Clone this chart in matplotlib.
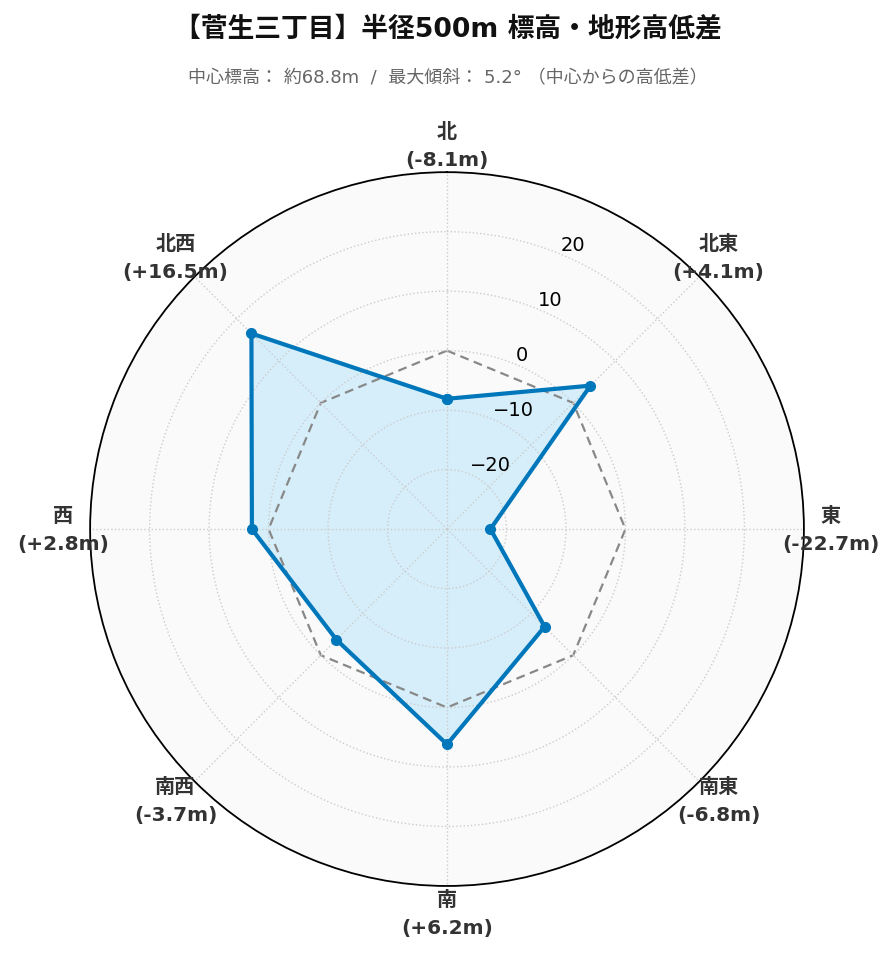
import numpy as np
import matplotlib
matplotlib.use('Agg')
import matplotlib.pyplot as plt

plt.rcParams['font.family'] = ['DejaVu Sans', 'Noto Sans CJK JP']

# 方位と中心からの高低差 (m)
directions = ['北', '北東', '東', '南東', '南', '南西', '西', '北西']
diffs = [-8.1, 4.1, -22.7, -6.8, 6.2, -3.7, 2.8, 16.5]
r_ticks = [-20, -10, 0, 10, 20]
title = '【菅生三丁目】半径500m 標高・地形高低差'
subtitle = '中心標高： 約68.8m  /  最大傾斜： 5.2° （中心からの高低差）'

n = len(directions)
angles = np.arange(n) * 2 * np.pi / n
angles_c = np.append(angles, angles[0])
diffs_c = np.append(diffs, diffs[0])
zero_c = np.zeros(n + 1)

fig = plt.figure(figsize=(8.96, 9.62), dpi=100)
ax = fig.add_axes([0.1004, 0.078, 0.797, 0.742], projection='polar')
ax.set_theta_offset(np.pi / 2)
ax.set_theta_direction(-1)
ax.set_facecolor('#fafafa')
ax.set_ylim(-30, 30)
ax.set_axisbelow(False)

ax.fill(angles_c, diffs_c, color='#d6eefa', linewidth=0, zorder=2)
ax.plot(angles_c, zero_c, color='#888888', linestyle='--', linewidth=1.6,
        dashes=(4, 2.5), zorder=2.2)
ax.plot(angles_c, diffs_c, color='#0077bb', linewidth=3, marker='o', markersize=7, zorder=3)

labels = ['%s\n(%+.1fm)' % (d, v) for d, v in zip(directions, diffs)]
ax.set_xticks(angles)
ax.set_xticklabels(labels, fontsize=14.5, fontweight='bold', color='#333333', linespacing=1.6)
ax.tick_params(axis='x', pad=9)

ax.set_yticks(r_ticks)
ax.tick_params(axis='y', labelsize=14, labelcolor='black')
ax.set_rlabel_position(22.5)

ax.grid(True, color='#cccccc', linestyle=':', linewidth=1)
ax.spines['polar'].set_color('black')
ax.spines['polar'].set_linewidth(1.3)

fig.text(0.5, 0.969, title, ha='center', va='center', fontsize=19.3, fontweight='bold',
         color='#111111')
fig.text(0.5, 0.919, subtitle, ha='center', va='center', fontsize=13, color='#666666')

fig.savefig('out.png', dpi=100)
